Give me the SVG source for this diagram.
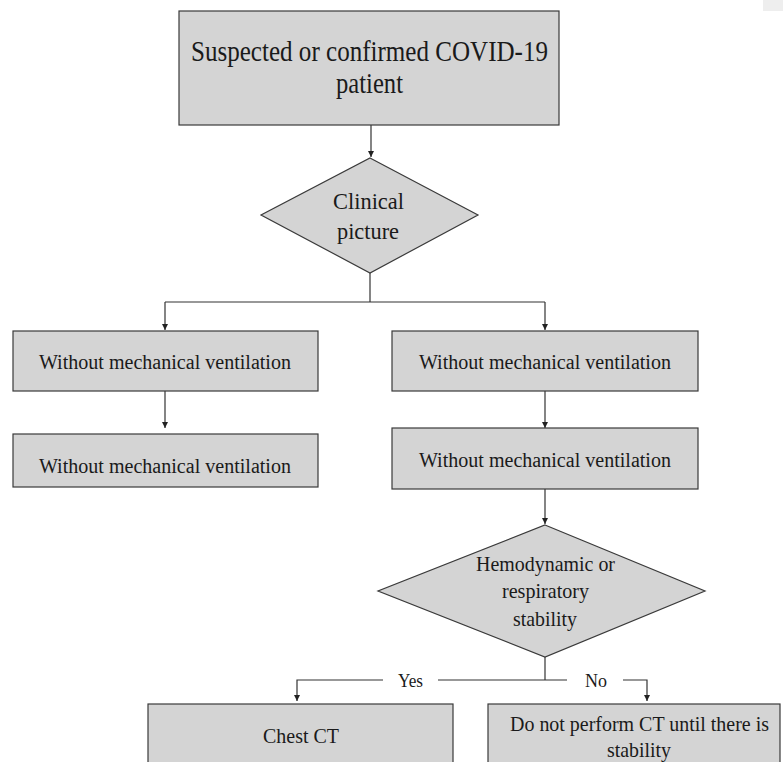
<svg xmlns="http://www.w3.org/2000/svg" width="783" height="762" viewBox="0 0 783 762">
<defs>
<style>
.box{fill:#d4d4d4;stroke:#3a3a3a;stroke-width:1.2}
.t{font-family:"Liberation Serif","Times New Roman",serif;fill:#1a1a1a}
.ln{fill:none;stroke:#333;stroke-width:1.2}
</style>
<marker id="ah" markerUnits="userSpaceOnUse" markerWidth="8" markerHeight="8" refX="6" refY="3" orient="auto">
<path d="M0,0 L6,3 L0,6 Z" fill="#222"/>
</marker>
</defs>
<rect width="783" height="762" fill="#fff"/>
<rect x="763" y="0" width="20" height="11" fill="#eeeeee"/>
<g id="connectors">
<path class="ln" d="M371,125 V157" marker-end="url(#ah)"/>
<path class="ln" d="M370,273 V302"/>
<path class="ln" d="M165,302 H545"/>
<path class="ln" d="M165,302 V330" marker-end="url(#ah)"/>
<path class="ln" d="M545,302 V330" marker-end="url(#ah)"/>
<path class="ln" d="M165,391 V428" marker-end="url(#ah)"/>
<path class="ln" d="M545,391 V428" marker-end="url(#ah)"/>
<path class="ln" d="M545,489 V524" marker-end="url(#ah)"/>
<path class="ln" d="M545,657 V680"/>
<path class="ln" d="M383,680 H297 V701" marker-end="url(#ah)"/>
<path class="ln" d="M438,680 H567"/>
<path class="ln" d="M623,680 H647 V701" marker-end="url(#ah)"/>
<text class="t" x="398" y="686.5" font-size="18" textLength="25" lengthAdjust="spacingAndGlyphs">Yes</text>
<text class="t" x="585" y="686.5" font-size="18" textLength="22" lengthAdjust="spacingAndGlyphs">No</text>
</g>
<g id="start">
<rect class="box" x="179" y="11" width="380" height="114"/>
<text class="t" x="191" y="61" font-size="30" textLength="357" lengthAdjust="spacingAndGlyphs">Suspected or confirmed COVID-19</text>
<text class="t" x="336" y="93" font-size="30" textLength="67" lengthAdjust="spacingAndGlyphs">patient</text>
</g>
<g id="clinical">
<path class="box" d="M370,158 L478,215 L370,273 L261,215 Z"/>
<text class="t" x="333" y="209" font-size="24" textLength="71" lengthAdjust="spacingAndGlyphs">Clinical</text>
<text class="t" x="337" y="239" font-size="24" textLength="62" lengthAdjust="spacingAndGlyphs">picture</text>
</g>
<g id="left1">
<rect class="box" x="13" y="331" width="305" height="60"/>
<text class="t" x="39" y="369" font-size="20" textLength="252" lengthAdjust="spacingAndGlyphs">Without mechanical ventilation</text>
</g>
<g id="left2">
<rect class="box" x="13" y="434" width="305" height="53"/>
<text class="t" x="39" y="473" font-size="20" textLength="252" lengthAdjust="spacingAndGlyphs">Without mechanical ventilation</text>
</g>
<g id="right1">
<rect class="box" x="392" y="331" width="306" height="60"/>
<text class="t" x="419" y="369" font-size="20" textLength="252" lengthAdjust="spacingAndGlyphs">Without mechanical ventilation</text>
</g>
<g id="right2">
<rect class="box" x="392" y="428" width="306" height="61"/>
<text class="t" x="419" y="467" font-size="20" textLength="252" lengthAdjust="spacingAndGlyphs">Without mechanical ventilation</text>
</g>
<g id="stability">
<path class="box" d="M545,525 L705,591 L545,657 L378,591 Z"/>
<text class="t" x="476" y="571" font-size="22" textLength="139" lengthAdjust="spacingAndGlyphs">Hemodynamic or</text>
<text class="t" x="502" y="598" font-size="22" textLength="87" lengthAdjust="spacingAndGlyphs">respiratory</text>
<text class="t" x="513" y="626" font-size="22" textLength="64" lengthAdjust="spacingAndGlyphs">stability</text>
</g>
<g id="chestct">
<rect class="box" x="148" y="704" width="305" height="70"/>
<text class="t" x="263" y="743" font-size="21" textLength="76" lengthAdjust="spacingAndGlyphs">Chest CT</text>
</g>
<g id="noct">
<rect class="box" x="488" y="704" width="292" height="70"/>
<text class="t" x="510" y="731" font-size="22" textLength="259" lengthAdjust="spacingAndGlyphs">Do not perform CT until there is</text>
<text class="t" x="607" y="757" font-size="22" textLength="64" lengthAdjust="spacingAndGlyphs">stability</text>
</g>
</svg>
